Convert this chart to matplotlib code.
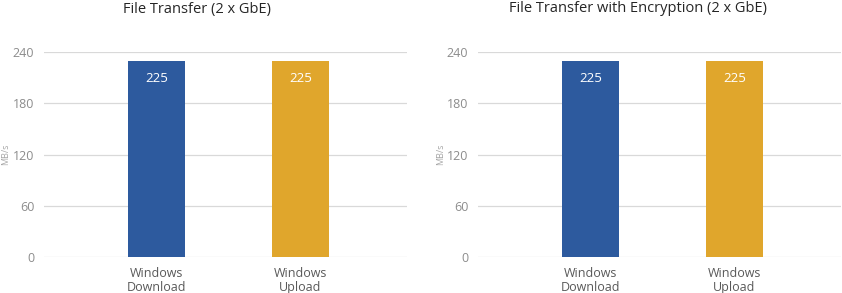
import matplotlib.pyplot as plt

plt.rcParams['font.family'] = ['Open Sans', 'DejaVu Sans']

titles = ['File Transfer (2 x GbE)', 'File Transfer with Encryption (2 x GbE)']
categories = ['Windows\nDownload', 'Windows\nUpload']
# bar heights as drawn in the picture, and the labels printed on them
plain_values = [229, 229]
encrypted_values = [229, 229]
plain_labels = ['225', '225']
encrypted_labels = ['225', '225']
yticks = [0, 60, 120, 180, 240]

bar_colors = ['#2D5A9E', '#E0A62C']
grid_color = '#D9D9D9'
tick_color = '#8C8C8C'
cat_color = '#595959'

fig = plt.figure(figsize=(8.42, 2.93), dpi=100)

axes_boxes = [
    [44 / 842, 1 - 257 / 293, 363 / 842, 205 / 293],
    [478 / 842, 1 - 257 / 293, 363 / 842, 205 / 293],
]
title_x = [197 / 842, 638 / 842]
ylabel_x = [6 / 842, 441 / 842]
series = [(plain_values, plain_labels), (encrypted_values, encrypted_labels)]

for box, title, tx, lx, (values, labels) in zip(axes_boxes, titles, title_x, ylabel_x, series):
    ax = fig.add_axes(box)
    x = list(range(len(categories)))
    ax.bar(x, values, width=0.4, color=bar_colors, zorder=3)
    for xi, v, lab in zip(x, values, labels):
        ax.text(xi, v - 20, lab, ha='center', va='center', color='white', fontsize=9.5)

    ax.set_ylim(0, 240)
    ax.set_xlim(-0.78, 1.74)
    ax.set_yticks(yticks)
    ax.yaxis.grid(True, color=grid_color, linewidth=0.9, zorder=0)
    ax.set_axisbelow(True)
    ax.tick_params(axis='y', length=0, pad=7, labelsize=9, labelcolor=tick_color)
    ax.tick_params(axis='x', length=0, pad=7, labelsize=9, labelcolor=cat_color)
    ax.set_xticks(x)
    ax.set_xticklabels(categories, linespacing=1.15)
    for s in ax.spines.values():
        s.set_visible(False)

    fig.text(lx, 1 - 154 / 293, 'MB/s', rotation=90, ha='center', va='center',
             fontsize=6.5, color='#A6A6A6')
    fig.text(tx, 1 - 9 / 293, title, ha='center', va='center', fontsize=10.5, color='#262626')

fig.savefig('out.png', dpi=100)
